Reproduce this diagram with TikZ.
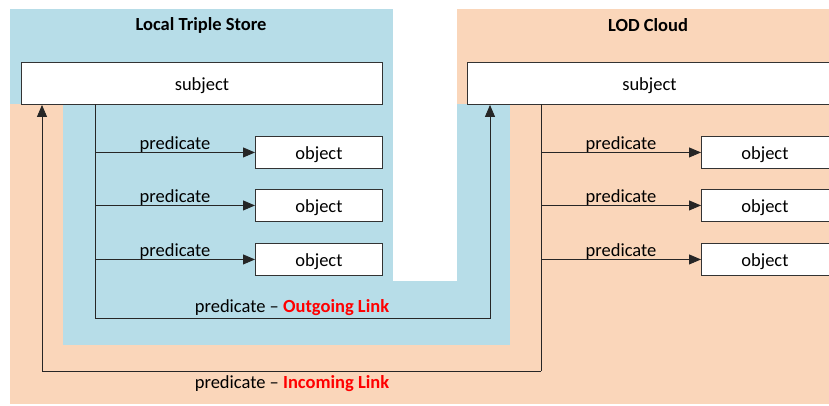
\documentclass[tikz,border=0pt]{standalone}
\usepackage{fontspec}
\setmainfont{Carlito}
\usetikzlibrary{arrows.meta}
\definecolor{lblue}{HTML}{B7DDE8}
\definecolor{lorange}{HTML}{FAD6BA}
\definecolor{linkred}{HTML}{FF0000}
\begin{document}
\begin{tikzpicture}[x=1pt,y=-1pt,
  box/.style={draw=black!80,fill=white,line width=0.9pt,inner sep=0pt,anchor=north west},
  lbl/.style={font=\fontsize{18.5}{20}\selectfont,inner sep=0pt},
  ttl/.style={font=\fontsize{18.5}{20}\selectfont\bfseries,inner sep=0pt},
  conn/.style={draw=black!85,line width=0.9pt},
  arr/.style={conn,-{Triangle[length=12pt,width=10pt]}}]
\useasboundingbox (0,0) rectangle (829,405);
% backgrounds
\fill[lorange] (10,104) rectangle (829,404);
\fill[lorange] (457,9) rectangle (829,104);
\fill[lblue] (10,9) rectangle (393,104);
\fill[lblue] (63,104) rectangle (510,345);
\fill[white] (393,9) rectangle (457,281);
% titles
\node[ttl] (t1) at (201,25.5) {Local Triple Store};
\node[ttl] (t2) at (648,25.5) {LOD Cloud};
% subjects
\node[box,minimum width=361pt,minimum height=42pt] (s1) at (21,62) {};
\node[lbl] at ([yshift=-2pt]s1.center) {subject};
\node[box,minimum width=364pt,minimum height=42pt] (s2) at (467,62) {};
\node[lbl] at ([yshift=-2pt]s2.center) {subject};
% objects
\foreach \i/\y in {1/136,2/189,3/243}{
  \node[box,minimum width=127pt,minimum height=32pt] (oa\i) at (255,\y) {};
  \node[lbl] at ([yshift=-2pt]oa\i.center) {object};
  \node[box,minimum width=130pt,minimum height=32pt] (ob\i) at (701,\y) {};
  \node[lbl] at ([xshift=-1.5pt,yshift=-2pt]ob\i.center) {object};
}
% coordinates
\coordinate (la) at (95,104);
\coordinate (lb) at (95,318);
\coordinate (lc) at (490,318);
\coordinate (ra) at (541,104);
\coordinate (rb) at (541,371);
\coordinate (rc) at (42,371);
% left connectors
\draw[conn] (la) -- (lb);
\foreach \i in {1,2,3}{
  \draw[arr] (la |- oa\i.west) -- (oa\i.west)
    node[lbl,midway,above=-0.5pt] {predicate};
  \draw[arr] (ra |- ob\i.west) -- (ob\i.west)
    node[lbl,midway,above=-0.5pt] {predicate};
}
\draw[conn] (ra) -- (rb);
% outgoing
\draw[arr] (lb) -- (lc) -- (lc |- s2.south);
\node[lbl] (ol) at (292,308) {predicate -- \textcolor{linkred}{\bfseries Outgoing Link}};
% incoming
\draw[arr] (rb) -- (rc) -- (rc |- s1.south);
\node[lbl] (il) at (292,383.5) {predicate -- \textcolor{linkred}{\bfseries Incoming Link}};
\end{tikzpicture}
\end{document}
